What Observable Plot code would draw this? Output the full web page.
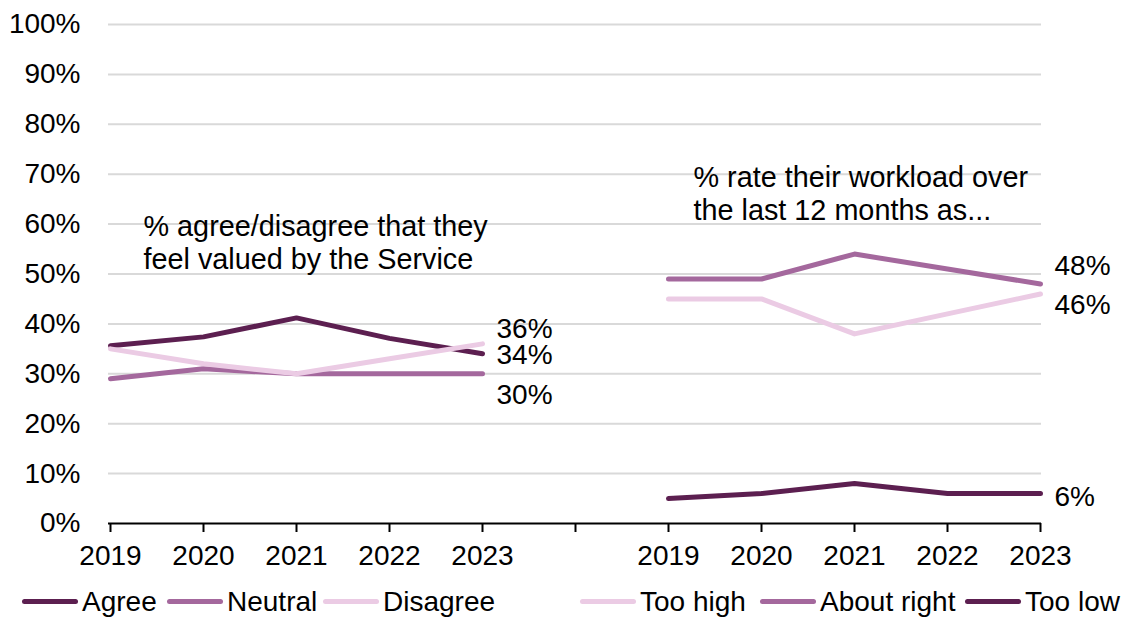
<!DOCTYPE html>
<html>
<head>
<meta charset="utf-8">
<script src="https://cdn.jsdelivr.net/npm/d3@7"></script>
<script src="https://cdn.jsdelivr.net/npm/@observablehq/plot@0.6"></script>
<style>
  html, body { margin: 0; padding: 0; background: #fff; }
  body { font-family: "Liberation Sans", Arial, sans-serif; }
  #legend { position: relative; width: 1127px; height: 39px; font-size: 28px; color: #000; }
  .item { position: absolute; top: 0; height: 39px; display: flex; align-items: center; white-space: nowrap; }
  .sw { display: inline-block; width: 56px; height: 5px; border-radius: 3px; margin-right: 4px; }
</style>
</head>
<body>
<div id="chart"></div>
<div id="legend"></div>
<script>
// ---- data ----
const years = ["2019", "2020", "2021", "2022", "2023"];

// Left panel: % agree/disagree that they feel valued by the Service
const leftSeries = ["Agree", "Neutral", "Disagree"];
const agree    = [35.6, 37.4, 41.2, 37.1, 34];
const neutral  = [29, 31, 30, 30, 30];
const disagree = [35, 32, 30, 33, 36];

// Right panel: % rate their workload over the last 12 months as...
const rightSeries = ["Too high", "About right", "Too low"];
const tooHigh    = [45, 45, 38, 42, 46];
const aboutRight = [49, 49, 54, 51, 48];
const tooLow     = [5, 6, 8, 6, 6];

const yTicks = [0, 10, 20, 30, 40, 50, 60, 70, 80, 90, 100];

const leftTitle = "% agree/disagree that they\nfeel valued by the Service";
const rightTitle = "% rate their workload over\nthe last 12 months as...";

// ---- styling ----
const dark = "#5c1f50", mid = "#a4689d", light = "#ebcbe4";
const seriesColor = {
  "Agree": dark, "Neutral": mid, "Disagree": light,
  "Too high": light, "About right": mid, "Too low": dark
};
const labelDy = {"Agree": 1, "Neutral": 21, "Disagree": -15, "Too high": 11, "About right": -18, "Too low": 3};

// ---- build table ----
const xDomain = [...years.map(y => "L" + y), "gap", ...years.map(y => "R" + y)];
const rows = [];
const addSeries = (prefix, name, vals) => vals.forEach((v, i) => rows.push({key: prefix + years[i], value: v, series: name}));
addSeries("L", "Agree", agree);
addSeries("L", "Neutral", neutral);
addSeries("L", "Disagree", disagree);
addSeries("R", "Too low", tooLow);
addSeries("R", "About right", aboutRight);
addSeries("R", "Too high", tooHigh);

const drawOrder = ["Agree", "Neutral", "Disagree", "Too low", "About right", "Too high"];
const allSeries = [...leftSeries, ...rightSeries];
const lastRows = drawOrder.map(s => rows.filter(r => r.series === s).slice(-1)[0]);

const W = 1127, H = 582;
const plot = Plot.plot({
  width: W,
  height: H,
  marginLeft: 108,
  marginRight: 86,
  marginTop: 24,
  marginBottom: 59,
  style: {fontSize: "28px", fontFamily: "'Liberation Sans', Arial, sans-serif", color: "#000", background: "#fff", overflow: "visible"},
  x: {type: "point", domain: xDomain, padding: 0, label: null},
  y: {domain: [0, 100], label: null},
  color: {domain: allSeries, range: allSeries.map(s => seriesColor[s])},
  marks: [
    Plot.gridY(yTicks.filter(t => t > 0), {stroke: "#d9d9d9", strokeOpacity: 1, strokeWidth: 2}),
    Plot.axisY(yTicks, {tickSize: 0, tickPadding: 28, tickFormat: d => d + "%", fontSize: 28, label: null}),
    Plot.axisX({tickSize: 9, tickPadding: 13, strokeWidth: 2, stroke: "#000", fontSize: 28, label: null,
      tickFormat: d => d === "gap" ? "" : d.slice(1)}),
    Plot.ruleY([0], {stroke: "#000", strokeWidth: 2}),
    ...drawOrder.map(s => Plot.lineY(rows.filter(r => r.series === s), {
      x: "key", y: "value", stroke: "series", strokeWidth: 5,
      strokeLinecap: "round", strokeLinejoin: "round"
    })),
    ...lastRows.map(r => Plot.text([r], {
      x: "key", y: "value", text: d => Math.round(d.value) + "%",
      dx: 14, dy: labelDy[r.series], textAnchor: "start", fontSize: 28, fill: "#000"
    })),
    Plot.text([leftTitle], {frameAnchor: "top-left", dx: 35, dy: 188, textAnchor: "start",
      lineAnchor: "top", lineHeight: 1.15, fontSize: 28.8, fill: "#000"}),
    Plot.text([rightTitle], {frameAnchor: "top-left", dx: 585, dy: 139, textAnchor: "start",
      lineAnchor: "top", lineHeight: 1.15, fontSize: 28.8, fill: "#000"})
  ]
});
document.getElementById("chart").appendChild(plot);

// ---- legend ----
const legendLefts = [22, 167, 323, 580, 760, 965];
const legendOrder = [...leftSeries, ...rightSeries];
const legend = document.getElementById("legend");
legendOrder.forEach((s, i) => {
  const it = document.createElement("div");
  it.className = "item";
  it.style.left = legendLefts[i] + "px";
  const sw = document.createElement("span");
  sw.className = "sw";
  sw.style.background = seriesColor[s];
  const tx = document.createElement("span");
  tx.textContent = s;
  it.appendChild(sw);
  it.appendChild(tx);
  legend.appendChild(it);
});
</script>
</body>
</html>
